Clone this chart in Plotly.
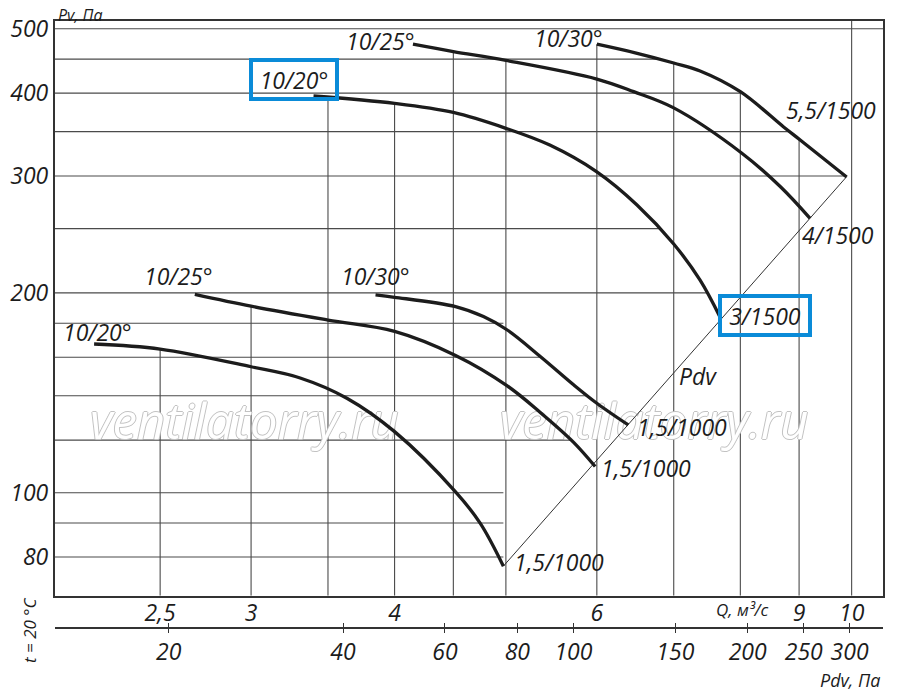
import numpy as np
import plotly.graph_objects as go

# fan curves: Q, m3/s  vs  Pv, Pa
q_a = [3.40, 4.0, 4.5, 5.0, 5.46, 6.0, 6.50, 7.0, 7.38, 7.68]
pv_a = [396, 386, 374, 354, 334, 304.4, 271.6, 237, 209, 184]
q_b = [4.15, 4.5, 5.0, 6.0, 6.46, 7.0, 8.02, 8.67, 9.2]
pv_b = [474, 462, 448, 420, 402, 380, 325, 289, 259]
q_c = [6.0, 6.48, 7.0, 7.38, 8.0, 8.72, 9.02, 9.9]
pv_c = [474, 460, 444, 432, 402, 356, 340, 299]
q_d = [2.19, 2.5, 3.0, 3.31, 3.635, 4.0, 4.52, 4.75, 4.975]
pv_d = [167.5, 164.6, 154.8, 148.9, 138.8, 123.6, 100.3, 89.9, 77.5]
q_e = [2.68, 3.0, 3.5, 4.0, 4.52, 5.01, 5.36, 5.73, 5.98]
pv_e = [199, 191, 182, 175, 161, 145, 132, 119, 109.5]
q_f = [3.85, 4.0, 4.52, 4.78, 5.01, 5.36, 5.73, 6.0, 6.39]
pv_f = [198.6, 197, 190.7, 184.2, 176, 160.3, 145.3, 136.4, 126.5]

# dynamic pressure line
q_pdv = [4.975, 9.9]
pv_pdv = [77.5, 299.3]

# grid and ticks
q_grid = [2.5, 3, 3.5, 4, 4.5, 5, 6, 7, 8, 9, 10]
pv_grid = [80, 90, 100, 120, 140, 160, 180, 200, 250, 300, 350, 400, 450, 500]
q_ticks = [2.5, 3, 4, 6, 9, 10]
q_ticktext = ['2,5', '3', '4', '6', '9', '10']
pv_ticks = [80, 100, 200, 300, 400, 500]
pdv_ticks = [20, 40, 60, 80, 100, 150, 200, 250, 300]

# watermark spots (Q, Pv)
wm_q = [2.96, 6.73]
wm_pv = [125.6, 125.6]

Q_RANGE = [0.3064, 1.0273]
PV_RANGE = [1.8448, 2.7107]
PDV_RANGE = [1.1045, 2.5348]
Y_DOM = [0.0532, 1]

FONT = 'Open Sans'
INK = '#1c1c1c'
BLUE = '#0a8bd8'
FS = 23

curves = [(q_a, pv_a), (q_b, pv_b), (q_c, pv_c), (q_d, pv_d), (q_e, pv_e), (q_f, pv_f)]


def top_at(q):
    # highest curve above a vertical grid line
    vals = [10 ** np.interp(np.log10(q), np.log10(cq), np.log10(cp))
            for cq, cp in curves if cq[0] <= q <= cq[-1]]
    return max(vals) if vals else 10 ** PV_RANGE[1]


def right_at(p):
    # right-most curve crossing a horizontal grid line
    vals = []
    for cq, cp in curves + [(q_pdv, pv_pdv)]:
        if min(cp) <= p <= max(cp):
            vals.append(10 ** np.interp(np.log10(p), np.log10(cp[::-1]), np.log10(cq[::-1])))
    return max(vals) if vals else 10 ** Q_RANGE[1]


gx, gy = [], []
for q in q_grid:
    gx += [q, q, None]
    gy += [10 ** PV_RANGE[0], top_at(q), None]
for p in pv_grid:
    gx += [10 ** Q_RANGE[0], right_at(p), None]
    gy += [p, p, None]

fig = go.Figure()
fig.add_trace(go.Scatter(x=gx, y=gy, mode='lines', line=dict(color='#4a4a4a', width=1.1),
                         hoverinfo='skip'))
fig.add_trace(go.Scatter(x=wm_q, y=wm_pv, mode='text', text=['ventilatorry.ru'] * 2,
                         textposition='middle center',
                         textfont=dict(family=FONT, size=49, color='white', style='italic',
                                       shadow='1px 0 #c2c2c2, -1px 0 #c2c2c2, 0 1px #c2c2c2, 0 -1px #c2c2c2')))
fig.add_trace(go.Scatter(x=q_pdv, y=pv_pdv, mode='lines', line=dict(color='#333', width=1)))
for cq, cp in curves:
    fig.add_trace(go.Scatter(x=cq, y=cp, mode='lines',
                             line=dict(color=INK, width=3.3, shape='spline', smoothing=1.0)))
# dummy traces so the Pdv axes get drawn
fig.add_trace(go.Scatter(x=[100], y=[100], xaxis='x2', yaxis='y', mode='markers', opacity=0))
fig.add_trace(go.Scatter(x=[100], y=[100], xaxis='x3', yaxis='y', mode='markers', opacity=0))


def label(q, p, text, dx, dy, box_w=None):
    a = dict(x=np.log10(q), y=np.log10(p), xref='x', yref='y', text=text, showarrow=False,
             xanchor='center', yanchor='middle', xshift=dx, yshift=dy,
             font=dict(size=FS, color=INK))
    if box_w:
        a.update(bordercolor=BLUE, borderwidth=4, borderpad=1, width=box_w, height=33)
    fig.add_annotation(**a)


label(q_a[0], pv_a[0], '10/20°', -20, 17, box_w=80)
label(q_a[-1], pv_a[-1], '3/1500', 45, 1, box_w=84)
label(q_b[0], pv_b[0], '10/25°', -32, 3)
label(q_b[-1], pv_b[-1], '4/1500', 28, -17)
label(q_c[0], pv_c[0], '10/30°', -28, 6)
label(q_c[-1], pv_c[-1], '5,5/1500', -16, 67)
label(q_d[0], pv_d[0], '10/20°', 3, 12)
label(q_d[-1], pv_d[-1], '1,5/1000', 56, 4)
label(q_e[0], pv_e[0], '10/25°', -16, 18)
label(q_e[-1], pv_e[-1], '1,5/1000', 51, -1)
label(q_f[0], pv_f[0], '10/30°', 0, 19)
label(q_f[-1], pv_f[-1], '1,5/1000', 54, -2)
label(7.35, 150, 'Pdv', 0, 0)


def caption(x, y, text, size, angle=0):
    fig.add_annotation(x=x, y=y, xref='paper', yref='paper', text=text, showarrow=False,
                       xanchor='center', yanchor='middle', textangle=angle,
                       font=dict(size=size, color=INK))


caption(0.030, 1.0099, 'Pv, Па', 16)
caption(0.830, 0.0297, 'Q, м³/с', 17)
caption(0.9605, -0.0857, 'Pdv, Па', 18)
caption(-0.0314, -0.0033, 't = 20 °C', 17, angle=-90)

# page body adds an 8px margin, so the figure is drawn 8px smaller and shifted
fig.update_layout(
    width=892, height=684,
    margin=dict(l=47, r=17, t=13, b=64, autoexpand=False),
    paper_bgcolor='white', plot_bgcolor='white',
    showlegend=False,
    font=dict(family=FONT, style='italic', color=INK, size=FS),
    xaxis=dict(type='log', range=Q_RANGE, showgrid=False, zeroline=False, automargin=False,
               showline=True, mirror=True, linewidth=2.3, linecolor='#333',
               tickvals=q_ticks, ticktext=q_ticktext, ticks='', ticklabelstandoff=-4,
               tickfont=dict(size=FS, color=INK)),
    xaxis2=dict(type='log', range=PDV_RANGE, overlaying='x', anchor='free', position=0,
                automargin=False,
                showgrid=False, zeroline=False, showline=True, linewidth=1.6, linecolor='#333',
                tickvals=pdv_ticks, ticktext=[str(v) for v in pdv_ticks],
                ticks='outside', ticklen=4, tickwidth=1.3, tickcolor='#333',
                ticklabelstandoff=0, tickfont=dict(size=FS, color=INK)),
    xaxis3=dict(type='log', range=PDV_RANGE, overlaying='x', anchor='free', position=0,
                automargin=False,
                showgrid=False, zeroline=False, showline=False,
                tickvals=pdv_ticks, ticks='inside', ticklen=5, tickwidth=1.3, tickcolor='#333',
                showticklabels=False),
    yaxis=dict(type='log', range=PV_RANGE, domain=Y_DOM, showgrid=False, zeroline=False,
               automargin=False,
               showline=True, mirror=True, linewidth=2.3, linecolor='#333',
               tickvals=pv_ticks, ticktext=[str(v) for v in pv_ticks], ticks='',
               tickfont=dict(size=FS, color=INK)),
)

fig.write_html("out.html")
